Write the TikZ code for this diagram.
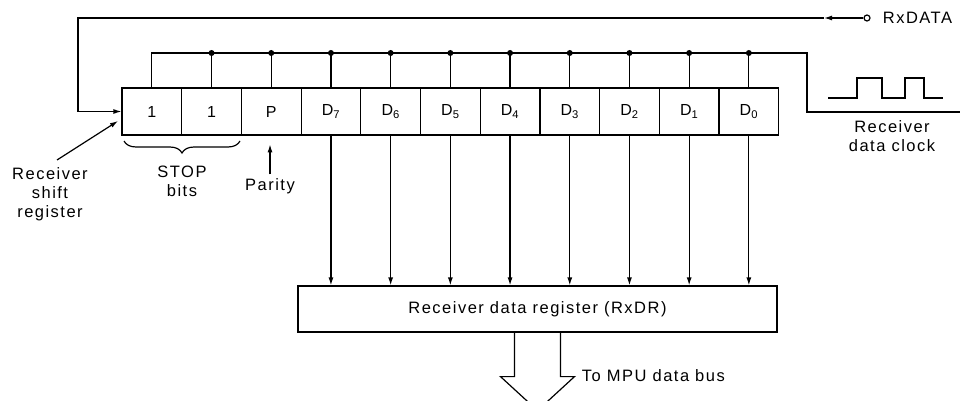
\documentclass[tikz,border=0pt]{standalone}
\usepackage{fontspec}
\setmainfont{Liberation Sans}[LetterSpace=9]
\usetikzlibrary{arrows.meta,decorations.pathreplacing}

\begin{document}
\begin{tikzpicture}[x=1pt,y=-1pt,line width=1.2pt,>={Latex[length=8pt,width=5pt]},
  cell/.style={draw,minimum width=59.7pt,minimum height=47pt,inner sep=0pt,font=\fontsize{16}{18}\selectfont},
  lbl/.style={align=center,font=\fontsize{16.5}{19}\selectfont},
  dot/.style={circle,fill,inner sep=0pt,minimum size=6pt}]
\useasboundingbox (0,0) rectangle (960,401);

% receiver shift register
\foreach \t [count=\i] in {1,1,P,D\textsubscript{7},D\textsubscript{6},D\textsubscript{5},D\textsubscript{4},D\textsubscript{3},D\textsubscript{2},D\textsubscript{1},D\textsubscript{0}}
  \node[cell] (c\i) at ({122+59.7*(\i-0.5)},111.5) {\t};

% clock bus
\coordinate (bus) at (0,53);
\coordinate (clkR) at (807,53);
\draw (c1.north) -- (c1.north |- bus) -- (clkR) |- (960,112);
\foreach \i in {2,...,11}
  \draw (c\i.north) -- (c\i.north |- bus) node[dot] {};

\draw (828,98) -- (857,98) -- (857,78) -- (882,78) -- (882,98) -- (905,98) -- (905,78) -- (924,78) -- (924,98) -- (943,98);
\node[lbl] (clk) at (892,136) {Receiver\\data clock};

% serial input
\node[circle,draw,inner sep=0pt,minimum size=6pt] (rxin) at (867,18) {};
\node[lbl,anchor=west] (rxname) at (879,18) {RxDATA};
\coordinate (rxarr) at (824,18);
\coordinate (loop) at (78,18);
\draw[->] (rxin.west) -- (rxarr);
\draw[->] (rxarr) -- (loop) |- (c1.west);

% labels under the register
\node[lbl] (srlbl) at (50,194) {Receiver\\shift\\register};
\coordinate (srtail) at (57,160);
\draw[->] (srtail) -- (118,121);
\draw[decorate,decoration={brace,mirror,amplitude=12pt}] (124,141) -- (240,141);
\node[lbl] (stop) at (182,181) {STOP\\bits};
\node[lbl] (par) at (270,186) {Parity};
\draw[->] (par.north) -- ++(0,-30);

% parallel transfer
\node[draw,minimum width=479pt,minimum height=46pt,font=\fontsize{16.5}{18}\selectfont] (rxdr) at (537.5,309) {Receiver data register (RxDR)};
\foreach \i in {4,...,11}
  \draw[->] (c\i.south) -- (c\i.south |- rxdr.north);

\draw (rxdr.south) ++(-23,0) -- ++(0,44) -- ++(-14,0) -- ++(37,34) -- ++(37,-34) -- ++(-14,0) -- ++(0,-44);
\node[lbl,anchor=west] (mpu) at (578,376) {To MPU data bus};
\end{tikzpicture}
\end{document}
